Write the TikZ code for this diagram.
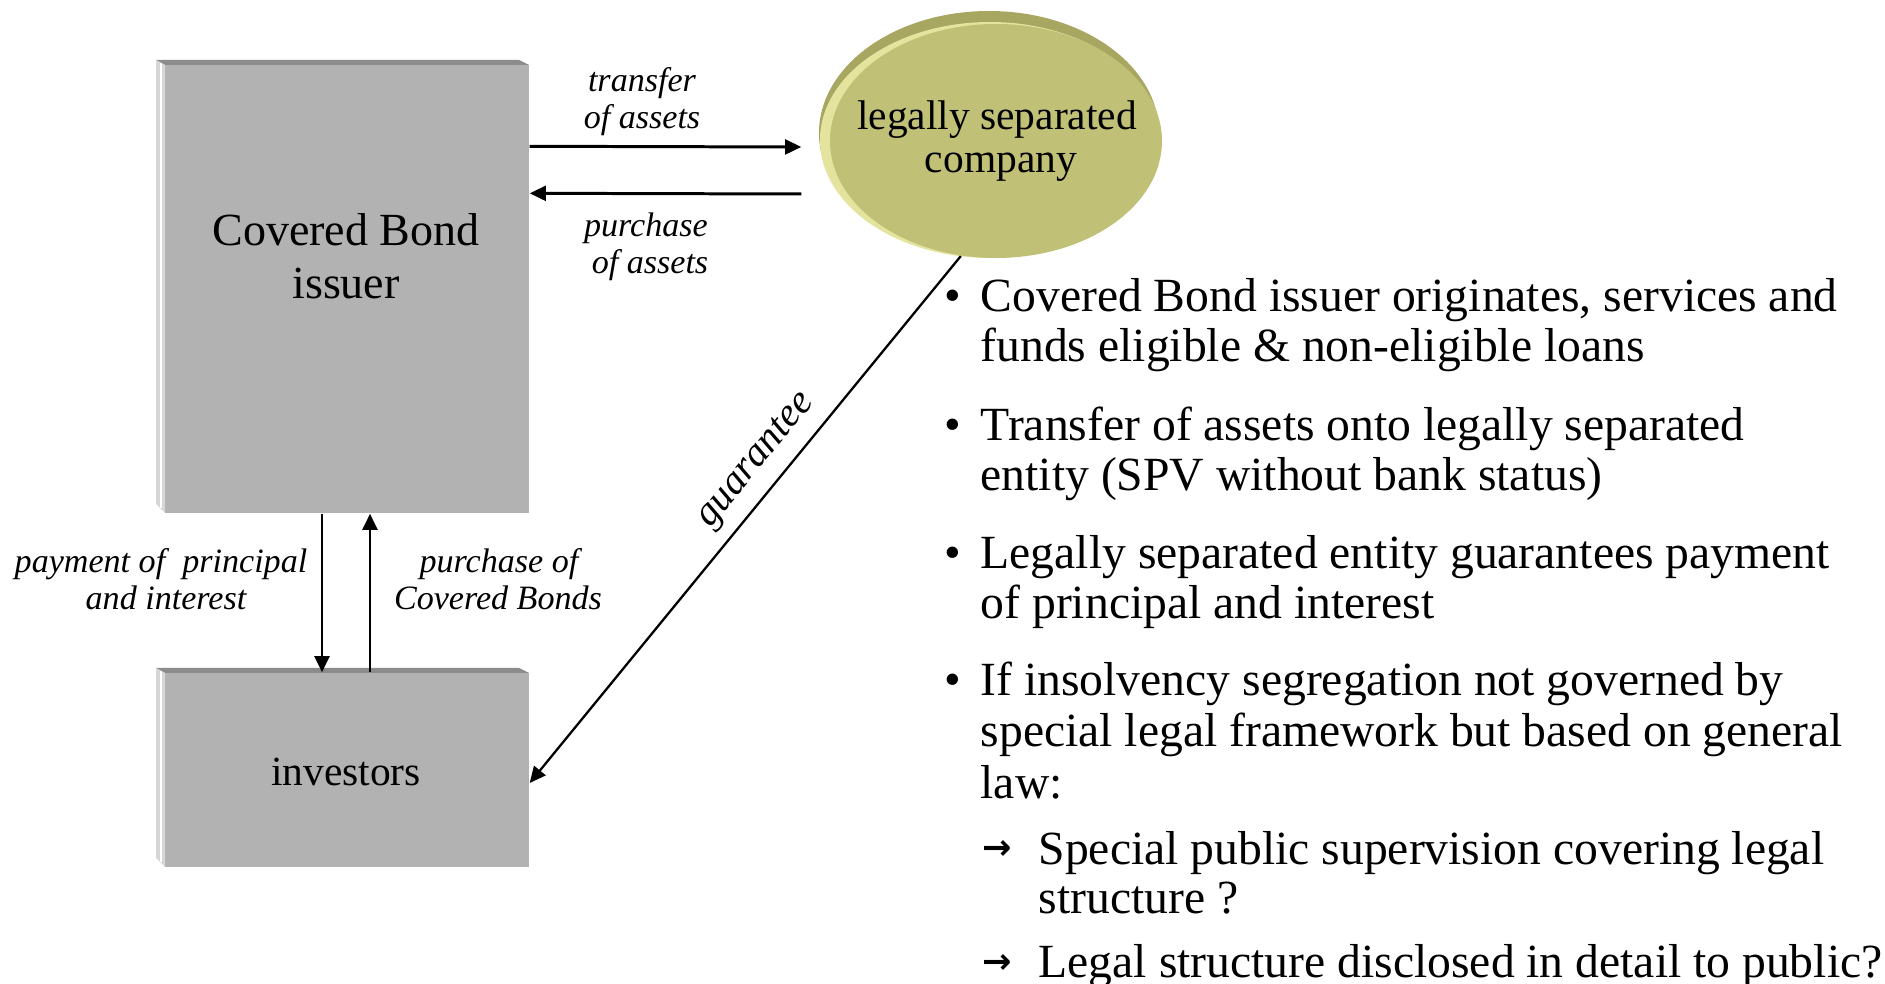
\documentclass[tikz,border=0pt]{standalone}
\usepackage{fontspec}
\setmainfont{Liberation Serif}
\newfontfamily\arrowfont{DejaVu Sans}
\usetikzlibrary{arrows.meta,shapes.geometric,calc}
\definecolor{boxface}{RGB}{178,178,178}
\definecolor{boxtop}{RGB}{140,140,140}
\definecolor{boxleft}{RGB}{214,214,214}
\definecolor{olvface}{RGB}{192,192,118}
\definecolor{olvdark}{RGB}{168,167,98}
\definecolor{olvlight}{RGB}{228,228,158}
\begin{document}
\begin{tikzpicture}[x=0.1mm,y=-0.1mm,
  face/.style={rectangle, fill=boxface, draw=none, inner sep=0},
  bigl/.style={anchor=base, inner sep=0, font=\fontsize{13.1pt}{15pt}\selectfont},
  midl/.style={anchor=base, inner sep=0, font=\fontsize{11.8pt}{14pt}\selectfont},
  itl/.style={anchor=base, inner sep=0, font=\fontsize{9.7pt}{11pt}\selectfont\itshape},
  btxt/.style={anchor=base west, inner sep=0, font=\fontsize{13.55pt}{15pt}\selectfont},
  bdot/.style={anchor=base, inner sep=0, font=\fontsize{13.55pt}{15pt}\selectfont},
  barr/.style={anchor=base, inner sep=0, font=\fontsize{10pt}{11pt}\arrowfont\bfseries},
  arr/.style={line width=0.85pt, -{Triangle[length=4.6pt,width=4.2pt]}},
  garr/.style={line width=0.65pt, -{Triangle[length=4.6pt,width=4.2pt]}}
]
\useasboundingbox (0,0) rectangle (1885,984);
% issuer box
\node[face, minimum width=36.4mm, minimum height=44.8mm] (issuer) at (347,289) {};
\fill[boxtop] (156,60) -- (519,60) -- (529,65) -- (165,65) -- cycle;
\fill[boxleft] (156,60) -- (165,65) -- (165,513) -- (156,504) -- cycle;
\draw[white, line width=0.4pt] (161,63) -- (161,508);
% investors box
\node[face, minimum width=36.4mm, minimum height=19.4mm] (inv) at (347,770) {};
\fill[boxtop] (156,668) -- (519,668) -- (529,673) -- (165,673) -- cycle;
\fill[boxleft] (156,668) -- (165,673) -- (165,867) -- (156,858) -- cycle;
\draw[white, line width=0.4pt] (161,671) -- (161,862);
% ellipse
\node[ellipse, fill=olvdark, minimum width=34mm, minimum height=24.4mm, inner sep=0] (spvback) at (989,133) {};
\node[ellipse, fill=olvlight, minimum width=34mm, minimum height=23.6mm, inner sep=0] (spvlight) at (990,140) {};
\node[ellipse, fill=olvface, minimum width=33.2mm, minimum height=23.4mm, inner sep=0] (spv) at (996,141) {};
% texts in shapes
\node[bigl] (cb1) at (346,246) {Covered Bond};
\node[bigl] (cb2) at (346,299) {issuer};
\node[midl] (invl) at (346,786) {investors};
\node[midl] (spv1) at (997,130) {legally separated};
\node[midl] (spv2) at (1001,173) {company};
% connectors
\draw[arr] ([shift={(0,82)}]issuer.north east) -- ([shift={(-28,6)}]spv.west);
\draw[arr] ([shift={(-28,53)}]spv.west) -- ([shift={(0,129)}]issuer.north east);
\draw[arr] ([shift={(-25,0)}]issuer.south) -- ([shift={(-25,0)}]inv.north);
\draw[arr] ([shift={(23,0)}]inv.north) -- ([shift={(23,0)}]issuer.south);
\draw[garr] (spv.-107) -- ([shift={(0,13)}]inv.east);
% connector labels
\node[itl] (ta1) at (642,92) {transfer};
\node[itl] (ta2) at (642,129) {of assets};
\node[itl] (pa1) at (646,237) {purchase};
\node[itl] (pa2) at (650,274) {of assets};
\node[itl] (pp1) at (161,573) {payment of\ \ principal};
\node[itl] (pp2) at (166,610) {and interest};
\node[itl] (pc1) at (499,573) {purchase of};
\node[itl] (pc2) at (498,610) {Covered Bonds};
\node[itl, anchor=center, rotate=50.6, font=\fontsize{11.5pt}{13pt}\selectfont\itshape] (glab) at (757,461) {guarantee};
% bullet list
\node[bdot] (d1) at (953,312) {•};
\node[btxt] (l1a) at (980,312) {Covered Bond issuer originates, services and};
\node[btxt] (l1b) at (980,362) {funds eligible \& non-eligible loans};
\node[bdot] (d2) at (953,441) {•};
\node[btxt] (l2a) at (980,441) {Transfer of assets onto legally separated};
\node[btxt] (l2b) at (980,491) {entity (SPV without bank status)};
\node[bdot] (d3) at (953,569) {•};
\node[btxt] (l3a) at (980,569) {Legally separated entity guarantees payment};
\node[btxt] (l3b) at (980,619) {of principal and interest};
\node[bdot] (d4) at (953,696) {•};
\node[btxt] (l4a) at (980,696) {If insolvency segregation not governed by};
\node[btxt] (l4b) at (980,747) {special legal framework but based on general};
\node[btxt] (l4c) at (980,799) {law:};
\node[barr] (a1) at (997,860) {→};
\node[btxt] (s1a) at (1038,865) {Special public supervision covering legal};
\node[btxt] (s1b) at (1038,914) {structure ?};
\node[barr] (a2) at (997,974) {→};
\node[btxt] (s2a) at (1038,978) {Legal structure disclosed in detail to public?};
\end{tikzpicture}
\end{document}
